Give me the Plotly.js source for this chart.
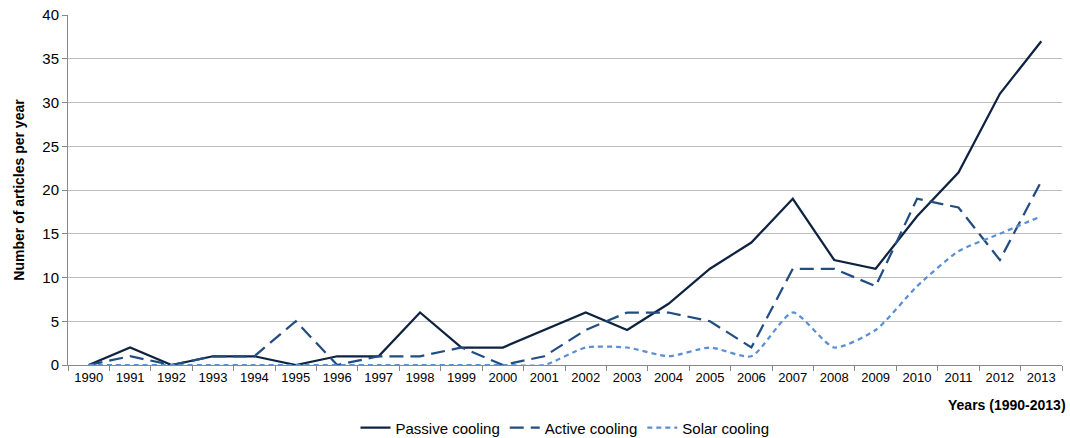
<!DOCTYPE html>
<html>
<head>
<meta charset="utf-8">
<script src="https://cdn.plot.ly/plotly-3.0.1.min.js"></script>
<style>html,body{margin:0;padding:0;background:#fff;}#chart{width:1070px;height:438px;}</style>
</head>
<body>
<div id="chart"></div>
<script>
const years = ["1990","1991","1992","1993","1994","1995","1996","1997","1998","1999","2000","2001","2002","2003","2004","2005","2006","2007","2008","2009","2010","2011","2012","2013"];
const passiveCooling = [0,2,0,1,1,0,1,1,6,2,2,4,6,4,7,11,14,19,12,11,17,22,31,37];
const activeCooling  = [0,1,0,1,1,5,0,1,1,2,0,1,4,6,6,5,2,11,11,9,19,18,12,21];
const solarCooling   = [0,0,0,0,0,0,0,0,0,0,0,0,2,2,1,2,1,6,2,4,9,13,15,17];
const seriesNames = ["Passive cooling","Active cooling","Solar cooling"];

const traces = [
  {x: years, y: passiveCooling, name: seriesNames[0], type: "scatter", mode: "lines",
   line: {color: "#0f2340", width: 2.25}},
  {x: years, y: activeCooling, name: seriesNames[1], type: "scatter", mode: "lines",
   line: {color: "#234d80", width: 2.25, dash: "14px,7px"}},
  {x: years, y: solarCooling, name: seriesNames[2], type: "scatter", mode: "lines",
   line: {color: "#5b8fd3", width: 2.25, dash: "5px,4px", shape: "spline", smoothing: 0.6}}
];

const layout = {
  width: 1070, height: 438,
  margin: {l: 68, r: 8, t: 15, b: 73, autoexpand: false},
  paper_bgcolor: "#fff", plot_bgcolor: "#fff",
  font: {family: "Liberation Sans, Arial, sans-serif", size: 13, color: "#000"},
  xaxis: {
    type: "category", tickson: "boundaries", ticks: "outside", ticklen: 5, tickcolor: "#888",
    showline: true, linecolor: "#888", linewidth: 1, showgrid: false, automargin: false,
    tickfont: {size: 13, color: "#000"}, range: [-0.5, 23.5], fixedrange: true
  },
  yaxis: {
    range: [0, 40], dtick: 5, ticks: "outside", ticklen: 5, tickcolor: "#888",
    showline: true, linecolor: "#888", linewidth: 1, gridcolor: "#bdbdbd", gridwidth: 1,
    zeroline: false, tickfont: {size: 15, color: "#000"}, automargin: false,
    title: {text: "<b>Number of articles per year</b>", font: {size: 14}, standoff: 14}
  },
  annotations: [{
    text: "<b>Years (1990-2013)</b>", xref: "paper", yref: "paper", x: 1.006, y: -0.114,
    xanchor: "right", yanchor: "middle", showarrow: false, font: {size: 14}
  }],
  legend: {orientation: "h", x: 0.5, xanchor: "center", yref: "container", y: 0.023, yanchor: "middle",
    font: {size: 15}, tracegroupgap: 0},
  showlegend: true
};

Plotly.newPlot("chart", traces, layout, {displayModeBar: false, staticPlot: true});
</script>
</body>
</html>
